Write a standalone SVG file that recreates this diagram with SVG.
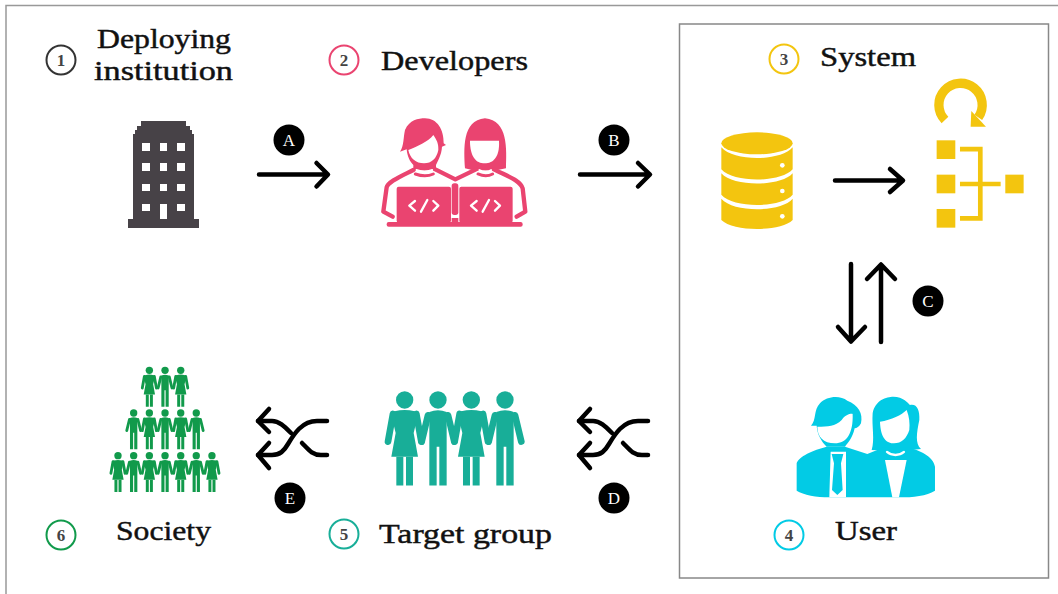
<svg xmlns="http://www.w3.org/2000/svg" width="1058" height="594" viewBox="0 0 1058 594">
<style>
.t{font-family:"Liberation Serif","DejaVu Serif",serif;font-size:28px;fill:#111;stroke:#111;stroke-width:.45;text-anchor:start}
.n{font-family:"Liberation Serif","DejaVu Serif",serif;font-size:17px;font-weight:700;fill:#444;text-anchor:middle}
.b{font-family:"Liberation Serif","DejaVu Serif",serif;font-size:17px;fill:#fff;text-anchor:middle}
.c{fill:#fff;stroke-width:2}
.a{fill:none;stroke:#000;stroke-width:4.5;stroke-linecap:round;stroke-linejoin:round}
.w{fill:none;stroke:#fff;stroke-linecap:round;stroke-linejoin:round}
</style>
<defs>
<g id="woman">
<circle cx="0" cy="26" r="26"/>
<path d="M-30 60Q0 52 30 60Q37 62 40 72L27 125L40 196H-40L-27 125L-40 72Q-37 62-30 60Z"/>
<path d="M-25 196H-4V283H-25ZM4 196H25V283H4Z"/>
<path d="M-35 68L-50 151M35 68L50 151" fill="none" stroke="currentColor" stroke-width="20" stroke-linecap="round"/>
</g>
<g id="man">
<circle cx="0" cy="26" r="26"/>
<path d="M-26 62Q0 52 26 62V283H4V166H-4V283H-26Z"/>
<path d="M-30 72L-49 151M30 72L49 151" fill="none" stroke="currentColor" stroke-width="20" stroke-linecap="round"/>
</g>
<g id="shuffle" class="a">
<path d="M327 421H317C302 421 294 434 288 444C284 451 280 455 272 455H258"/>
<path d="M258 421H272C279 421 284 426 291 433M302 443C308 449 312 455 321 455H327"/>
<path d="M269 409L258 421L269 432M269 443L258 455L269 468"/>
</g>
</defs>
<path d="M6 594V5.500H1058" fill="none" stroke="#999" stroke-width="1.500"/>
<rect x="679.500" y="24" width="369" height="554" fill="#fff" stroke="#888" stroke-width="1.500"/>

<g id="connectors">
<g class="a">
<path d="M259 174.500H327M316.500 163L328 174.500L316.500 186.500"/>
<path d="M580 174.500H649M638 163L650 174.500L638 186.500"/>
<path d="M835 180.500H902M890 169L903 180.500L890 192"/>
<path d="M851 264V341M838 327L851 341.500L865 327"/>
<path d="M881 342V265M867 279L881 264.500L895 279"/>
</g>
<use href="#shuffle"/>
<use href="#shuffle" x="321"/>
</g>

<g id="badges">
<g id="badge-a"><circle cx="289" cy="140" r="15.500"/><text class="b" x="289" y="146">A</text></g>
<g id="badge-b"><circle cx="614" cy="140" r="15.500"/><text class="b" x="614" y="146">B</text></g>
<g id="badge-c"><circle cx="928" cy="301" r="15.500"/><text class="b" x="928" y="307">C</text></g>
<g id="badge-d"><circle cx="614" cy="498" r="15.500"/><text class="b" x="614" y="504">D</text></g>
<g id="badge-e"><circle cx="290" cy="498" r="15.500"/><text class="b" x="290" y="504">E</text></g>
</g>

<g id="node-1">
<circle class="c" cx="61" cy="60" r="14.500" stroke="#333"/><text class="n" x="61" y="66">1</text>
<text class="t" x="97" y="48" textLength="134" lengthAdjust="spacingAndGlyphs">Deploying</text>
<text class="t" x="94" y="80" textLength="139" lengthAdjust="spacingAndGlyphs">institution</text>
<path fill="#474247" d="M141 121H186V126H190V130H192V134H194V219H199V228H128V219H133V134H135V130H137V126H141Z"/>
<path fill="#fff" d="M142 143h8v8h-8zM160 143h7v8h-7zM177 143h8v8h-8zM142 163h8v8h-8zM160 163h7v8h-7zM177 163h8v8h-8zM142 184h8v7h-8zM160 184h7v7h-7zM177 184h8v7h-8zM142 204h8v7h-8zM160 204h7v15h-7zM177 204h8v7h-8z"/>
</g>

<g id="node-2">
<circle class="c" cx="344" cy="60" r="14.500" stroke="#ea4470"/><text class="n" x="344" y="66">2</text>
<text class="t" x="381" y="70" textLength="147" lengthAdjust="spacingAndGlyphs">Developers</text>
<g transform="translate(350 100) scale(.3333)">
<g fill="#ea4470">
<path d="M150 155C162 140 160 110 165 90C178 60 205 55 225 55C262 55 282 90 281 130L288 135L276 140C275 165 262 185 258 195V212H190V195C180 185 172 170 170 148Z"/>
<path d="M345 205C342 150 335 60 405 55C475 60 470 150 468 205L432 212H375Z"/>
<rect x="140" y="260" width="163" height="108" rx="6"/>
<rect x="328" y="260" width="160" height="108" rx="6"/>
<rect x="110" y="366" width="408" height="14" rx="6"/>
<rect x="305" y="250" width="20" height="95" rx="8"/>
<rect x="305" y="354" width="20" height="12"/>
</g>
<path d="M175 150C200 140 235 125 250 105C260 120 266 130 265 150C260 175 245 190 222 190C198 190 180 175 175 150Z" fill="#fff"/>
<path d="M360 122H447C450 170 430 190 404 190C378 190 360 170 360 122Z" fill="#fff"/>
<path class="w" stroke-width="6" d="M199 210C212 216 235 216 247 210M388 210C397 216 417 216 424 210"/>
<g fill="none" stroke="#ea4470" stroke-width="13" stroke-linecap="round" stroke-linejoin="round">
<path d="M128 350L100 335L110 262C114 245 150 230 190 210M256 208L316 238L378 208M432 208C470 228 510 240 518 265L526 335L500 350"/>
<path stroke-width="9" d="M196 222C215 229 235 229 250 222M384 222C400 229 415 229 428 222"/>
</g>
<path class="w" stroke-width="7" d="M195 303L178 317L195 332M213 335L232 300M250 303L265 317L250 332M380 303L363 317L380 332M398 335L417 300M435 303L450 317L435 332"/>
</g>
</g>

<g id="node-3">
<circle class="c" cx="784" cy="59" r="14.500" stroke="#f3c50f"/><text class="n" x="784" y="65">3</text>
<text class="t" x="820" y="66" textLength="96" lengthAdjust="spacingAndGlyphs">System</text>
<g transform="translate(700 30) scale(.3333)" fill="#f3c50f">
<ellipse cx="171" cy="340" rx="107" ry="33"/>
<path d="M64 352C100 395 242 395 278 352V418C242 459 100 459 64 418Z"/>
<path d="M64 430C100 471 242 471 278 430V494C242 535 100 535 64 494Z"/>
<path d="M64 506C100 548 242 548 278 506V570C242 606 100 606 64 570Z"/>
<circle cx="247" cy="406" r="7" fill="#fff"/><circle cx="247" cy="483" r="7" fill="#fff"/><circle cx="247" cy="559" r="7" fill="#fff"/>
<rect x="710" y="331" width="56" height="56"/><rect x="710" y="434" width="56" height="56"/><rect x="710" y="537" width="56" height="56"/><rect x="916" y="434" width="55" height="56"/>
<path d="M780 357.500H841V565H780M780 462H902" fill="none" stroke="#f3c50f" stroke-width="14"/>
<path d="M735 270A65 65 0 1 1 835 262" fill="none" stroke="#f3c50f" stroke-width="28"/>
<path d="M812 290H858L814 243Z"/>
</g>
</g>

<g id="node-4">
<circle class="c" cx="789" cy="535" r="14.500" stroke="#02cbe5"/><text class="n" x="789" y="541">4</text>
<text class="t" x="835" y="540" textLength="62" lengthAdjust="spacingAndGlyphs">User</text>
<g transform="translate(760 250) scale(.3333)" fill="#02cbe5">
<path d="M153 527C170 510 160 480 180 460C200 438 240 435 262 452C295 465 310 490 303 520C298 530 290 535 284 535C278 565 262 580 255 590H200C185 575 172 555 170 527Z"/>
<path d="M335 600C345 570 335 530 338 490C345 450 380 440 400 440C430 440 445 460 450 465C470 460 480 480 478 510C470 550 465 580 483 597L430 602H380Z"/>
<path d="M110 640C115 620 160 600 200 590H255L322 612L372 592H440C480 600 520 620 525 650V722C500 738 460 742 417 742H258C280 742 300 740 322 735C345 740 370 742 397 742H208C170 742 130 735 110 722Z"/>
<path d="M172 530C205 530 225 530 245 510C255 495 272 490 278 492C280 550 260 580 225 580C190 580 172 560 172 530Z" fill="#fff"/>
<path d="M360 515C395 510 425 495 440 480C448 500 450 520 448 540C440 565 425 580 402 580C380 580 362 565 360 515Z" fill="#fff"/>
<path d="M212 605H258V742H208Z" fill="#fff"/>
<path d="M215 612H250L243 640L248 720L232 735L216 720L222 640Z"/>
<path d="M375 630H440L417 742H397Z" fill="#fff"/>
<path class="w" stroke-width="7" d="M381 606C395 618 418 618 432 606"/>
</g>
</g>

<g id="node-5" fill="#18ae98" color="#18ae98">
<circle class="c" cx="344" cy="534" r="14.500" stroke="#18ae98"/><text class="n" x="344" y="540">5</text>
<text class="t" x="379" y="543" textLength="173" lengthAdjust="spacingAndGlyphs">Target group</text>
<g transform="translate(360 391.300) scale(.3333)">
<use href="#woman" x="134"/><use href="#man" x="234"/><use href="#woman" x="334"/><use href="#man" x="435"/>
</g>
</g>

<g id="node-6" fill="#119a4b" color="#119a4b">
<circle class="c" cx="61" cy="535" r="14.500" stroke="#119a4b"/><text class="n" x="61" y="541">6</text>
<text class="t" x="116" y="540" textLength="95" lengthAdjust="spacingAndGlyphs">Society</text>
<g transform="translate(0 366.700) scale(.1413)">
<use href="#woman" x="1057"/><use href="#man" x="1168"/><use href="#woman" x="1279"/>
</g>
<g transform="translate(0 409.300) scale(.1413)">
<use href="#man" x="946"/><use href="#woman" x="1057"/><use href="#man" x="1168"/><use href="#woman" x="1279"/><use href="#man" x="1389"/>
</g>
<g transform="translate(0 452) scale(.1413)">
<use href="#woman" x="835"/><use href="#man" x="946"/><use href="#woman" x="1057"/><use href="#man" x="1168"/><use href="#woman" x="1279"/><use href="#man" x="1389"/><use href="#woman" x="1500"/>
</g>
</g>
</svg>
